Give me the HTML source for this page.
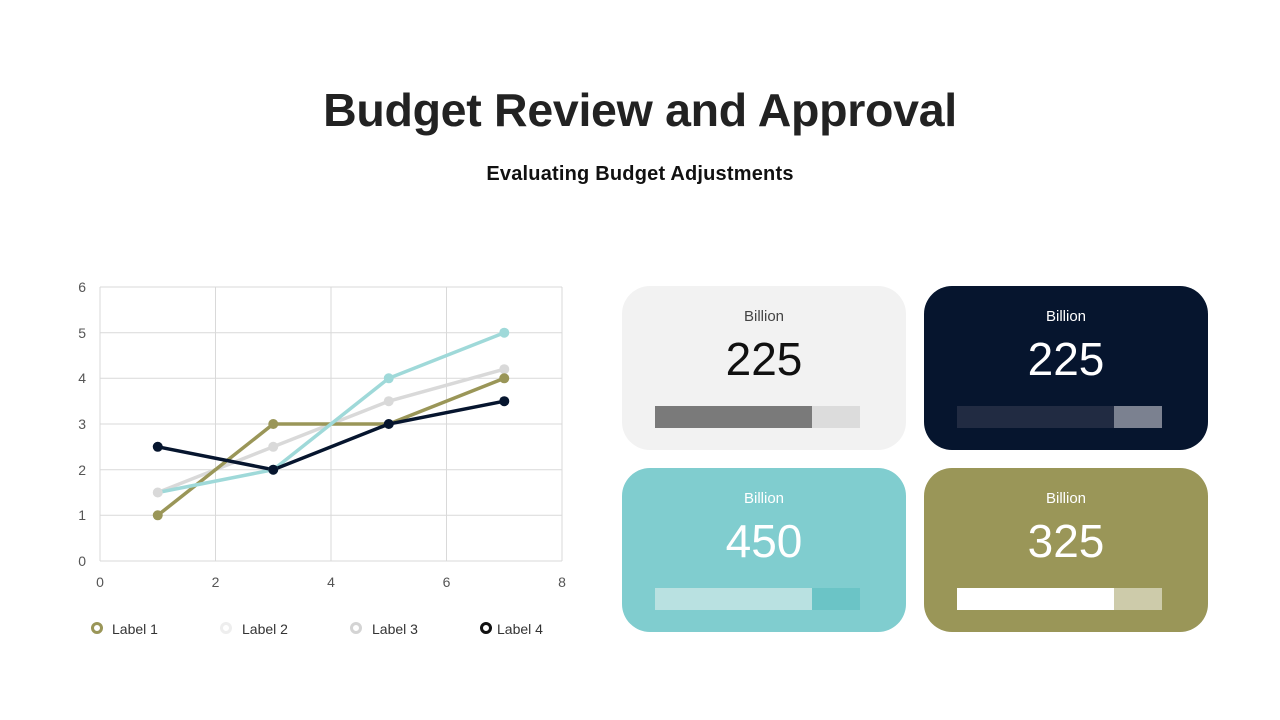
<!DOCTYPE html>
<html><head><meta charset="utf-8"><style>
body{margin:0;width:1280px;height:720px;background:#fff;font-family:"Liberation Sans",sans-serif;position:relative;overflow:hidden}
.t{position:absolute;left:0;width:1280px;text-align:center;color:#222}
.card{position:absolute;width:284px;height:164px;border-radius:28px}
.card .l{position:absolute;top:22px;width:100%;text-align:center;font-size:15px}
.card .n{position:absolute;top:46px;width:100%;text-align:center;font-size:46px}
.bar{position:absolute;left:33px;top:120px;height:22px;width:205px}
.bar i{position:absolute;left:0;top:0;height:22px;width:157px}
</style></head><body>
<div class="t" style="top:83px;font-size:46.5px;font-weight:bold;letter-spacing:-0.3px">Budget Review and Approval</div>
<div class="t" style="top:163px;font-size:20px;font-weight:bold;color:#111;letter-spacing:0.2px">Evaluating Budget Adjustments</div>
<svg width="600" height="660" style="position:absolute;left:0;top:0" font-family="Liberation Sans, sans-serif" font-size="14" fill="#555">
<g stroke="#d9d9d9" stroke-width="1">
<line x1="100" y1="287" x2="562" y2="287"/><line x1="100" y1="332.7" x2="562" y2="332.7"/><line x1="100" y1="378.3" x2="562" y2="378.3"/><line x1="100" y1="424" x2="562" y2="424"/><line x1="100" y1="469.7" x2="562" y2="469.7"/><line x1="100" y1="515.3" x2="562" y2="515.3"/><line x1="100" y1="561" x2="562" y2="561"/>
<line x1="100" y1="287" x2="100" y2="561"/><line x1="215.5" y1="287" x2="215.5" y2="561"/><line x1="331" y1="287" x2="331" y2="561"/><line x1="446.5" y1="287" x2="446.5" y2="561"/><line x1="562" y1="287" x2="562" y2="561"/>
</g>
<g text-anchor="end"><text x="86" y="292">6</text><text x="86" y="338">5</text><text x="86" y="383">4</text><text x="86" y="429">3</text><text x="86" y="475">2</text><text x="86" y="520">1</text><text x="86" y="566">0</text></g>
<g text-anchor="middle"><text x="100" y="587">0</text><text x="215.5" y="587">2</text><text x="331" y="587">4</text><text x="446.5" y="587">6</text><text x="562" y="587">8</text></g>
<g fill="none" stroke-width="3.5">
<polyline stroke="#d9d9d9" points="157.75,492.5 273.25,446.8 388.75,401.2 504.25,369.2"/>
<polyline stroke="#9a9658" points="157.75,515.3 273.25,424 388.75,424 504.25,378.3"/>
<polyline stroke="#9fd9d9" points="157.75,492.5 273.25,469.7 388.75,378.3 504.25,332.7"/>
<polyline stroke="#06152e" points="157.75,446.8 273.25,469.7 388.75,424 504.25,401.2"/>
</g>
<g fill="#d9d9d9"><circle cx="157.75" cy="492.5" r="5"/><circle cx="273.25" cy="446.8" r="5"/><circle cx="388.75" cy="401.2" r="5"/><circle cx="504.25" cy="369.2" r="5"/></g>
<g fill="#9a9658"><circle cx="157.75" cy="515.3" r="5"/><circle cx="273.25" cy="424" r="5"/><circle cx="504.25" cy="378.3" r="5"/></g>
<g fill="#9fd9d9"><circle cx="273.25" cy="469.7" r="5"/><circle cx="388.75" cy="378.3" r="5"/><circle cx="504.25" cy="332.7" r="5"/></g>
<g fill="#06152e"><circle cx="157.75" cy="446.8" r="5"/><circle cx="273.25" cy="469.7" r="5"/><circle cx="388.75" cy="424" r="5"/><circle cx="504.25" cy="401.2" r="5"/></g>
<g fill="#fff" stroke-width="3"><circle cx="97" cy="628" r="4.5" stroke="#9a9658"/><circle cx="226" cy="628" r="4.5" stroke="#eeeeee"/><circle cx="356" cy="628" r="4.5" stroke="#d4d4d4"/><circle cx="486" cy="628" r="4.5" stroke="#111"/></g>
<g fill="#333"><text x="112" y="634">Label 1</text><text x="242" y="634">Label 2</text><text x="372" y="634">Label 3</text><text x="497" y="634">Label 4</text></g>
</svg>
<div class="card" style="left:622px;top:286px;background:#f2f2f2;color:#111"><div class="l" style="color:#444">Billion</div><div class="n">225</div><div class="bar" style="background:#dcdcdc"><i style="background:#7a7a7a"></i></div></div>
<div class="card" style="left:924px;top:286px;background:#06152e;color:#fff"><div class="l">Billion</div><div class="n">225</div><div class="bar" style="background:#7b8190"><i style="background:#212b42"></i></div></div>
<div class="card" style="left:622px;top:468px;background:#80cdcf;color:#fff"><div class="l">Billion</div><div class="n">450</div><div class="bar" style="background:#6bc4c6"><i style="background:#b9e1e1"></i></div></div>
<div class="card" style="left:924px;top:468px;background:#9a9658;color:#fff"><div class="l">Billion</div><div class="n">325</div><div class="bar" style="background:#cdcbaa"><i style="background:#fff"></i></div></div>
</body></html>
